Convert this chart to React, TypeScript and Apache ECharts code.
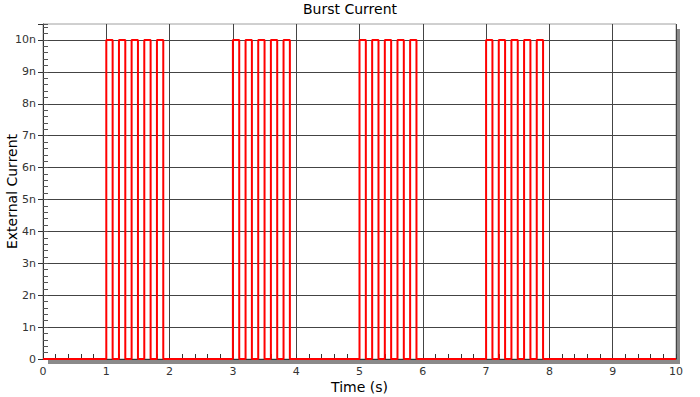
import React, { useEffect, useRef } from "react";
import * as echarts from "echarts";

// Transition times (s) of the step signal and the current level (nA) held from each time on
const time = [
  0,
  1.0, 1.1, 1.2, 1.3, 1.4, 1.5, 1.6, 1.7, 1.8, 1.9,
  3.0, 3.1, 3.2, 3.3, 3.4, 3.5, 3.6, 3.7, 3.8, 3.9,
  5.0, 5.1, 5.2, 5.3, 5.4, 5.5, 5.6, 5.7, 5.8, 5.9,
  7.0, 7.1, 7.2, 7.3, 7.4, 7.5, 7.6, 7.7, 7.8, 7.9,
  10,
];
const currentNA = [
  0,
  10, 0, 10, 0, 10, 0, 10, 0, 10, 0,
  10, 0, 10, 0, 10, 0, 10, 0, 10, 0,
  10, 0, 10, 0, 10, 0, 10, 0, 10, 0,
  10, 0, 10, 0, 10, 0, 10, 0, 10, 0,
  0,
];
const xTicks = [0, 1, 2, 3, 4, 5, 6, 7, 8, 9, 10];
const yTickLabels = ["0", "1n", "2n", "3n", "4n", "5n", "6n", "7n", "8n", "9n", "10n"];

const FONT = "DejaVu Sans";

export default function App() {
  const ref = useRef<HTMLDivElement>(null);
  useEffect(() => {
    if (!ref.current) return;
    document.body.style.margin = "0";
    const chart = echarts.init(ref.current, null, { renderer: "svg" });
    const data = time.map((t, i) => [t, currentNA[i]]);
    chart.setOption({
      animation: false,
      backgroundColor: "#ffffff",
      textStyle: { fontFamily: FONT },
      title: {
        text: "Burst Current",
        left: "center",
        top: 0,
        padding: [2, 5, 5, 5],
        textStyle: { fontFamily: FONT, fontSize: 14, fontWeight: "normal", color: "#000" },
      },
      graphic: [
        { type: "rect", z: -10, shape: { x: 676, y: 29, width: 4, height: 335 }, style: { fill: "#8a8a8a" } },
        { type: "rect", z: -10, shape: { x: 48, y: 360, width: 632, height: 4 }, style: { fill: "#8a8a8a" } },
      ],
      grid: {
        left: 43,
        right: 24,
        top: 24,
        bottom: 38,
        containLabel: false,
        outerBoundsMode: "none",
        show: true,
        backgroundColor: "#ffffff",
        borderColor: "#a0a0a0",
        borderWidth: 1,
      },
      xAxis: [
        {
          type: "value",
          min: xTicks[0],
          max: xTicks[xTicks.length - 1],
          interval: 1,
          name: "Time (s)",
          nameLocation: "middle",
          nameGap: 21,
          nameMoveOverlap: false,
          nameTextStyle: { fontFamily: FONT, fontSize: 14, color: "#000" },
          axisLine: { show: true, lineStyle: { color: "#333", width: 1 } },
          axisTick: { show: true, inside: true, length: 5, lineStyle: { color: "#333" } },
          minorTick: { show: true, splitNumber: 5, length: 5, lineStyle: { color: "#333" } },
          axisLabel: {
            margin: 7,
            fontSize: 11,
            fontFamily: FONT,
            color: "#333",
            formatter: (v: number) => String(v),
          },
          splitLine: { show: true, showMinLine: false, lineStyle: { color: "#444", width: 1 } },
        },
      ],
      yAxis: [
        {
          type: "value",
          min: 0,
          max: 10.5,
          interval: 1,
          name: "External Current",
          nameLocation: "middle",
          nameGap: 24,
          nameMoveOverlap: false,
          nameTextStyle: { fontFamily: FONT, fontSize: 14, color: "#000" },
          axisLine: { show: true, lineStyle: { color: "#333", width: 1 } },
          axisTick: { show: true, inside: false, length: 5, lineStyle: { color: "#333" } },
          axisLabel: {
            margin: 7,
            fontSize: 11,
            fontFamily: FONT,
            color: "#333",
            formatter: (v: number) => {
              const r = Math.round(v);
              if (Math.abs(v - r) > 1e-6) return "";
              return yTickLabels[r] ?? "";
            },
          },
          splitLine: { show: true, showMinLine: false, showMaxLine: false, lineStyle: { color: "#444", width: 1 } },
        },
        {
          type: "value",
          min: 0,
          max: 10.5,
          interval: 0.2,
          position: "left",
          offset: 0,
          axisLine: { show: false },
          axisTick: { show: true, inside: true, length: 5, lineStyle: { color: "#555" } },
          axisLabel: { show: false },
          splitLine: { show: false },
        },
      ],
      series: [
        {
          type: "line",
          step: "end",
          data,
          showSymbol: false,
          symbol: "none",
          lineStyle: { color: "#ff0000", width: 2 },
          xAxisIndex: 0,
          yAxisIndex: 0,
        },
      ],
    });
    return () => chart.dispose();
  }, []);
  return <div ref={ref} style={{ width: 700, height: 397 }} />;
}
